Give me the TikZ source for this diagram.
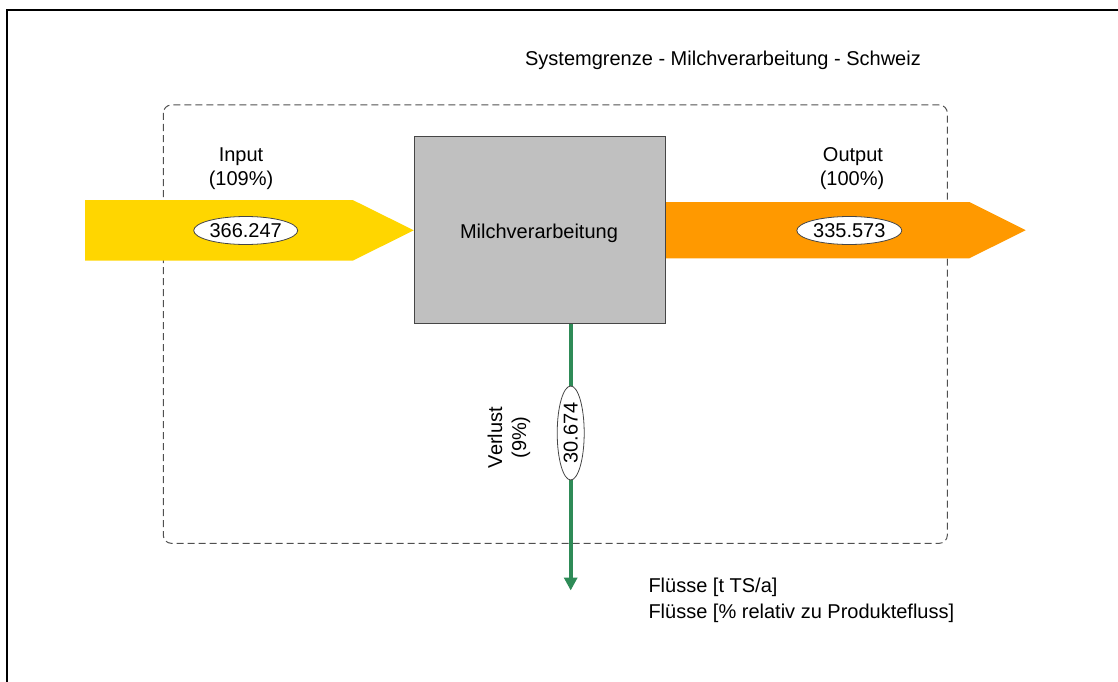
\documentclass[tikz,border=0pt]{standalone}
\usepackage{fontspec}
\setmainfont{Liberation Sans}
\usetikzlibrary{shapes.geometric,arrows.meta}
\definecolor{inyellow}{RGB}{255,214,0}
\definecolor{outorange}{RGB}{255,153,0}
\definecolor{lossgreen}{RGB}{46,139,87}
\definecolor{boxgray}{RGB}{192,192,192}
\definecolor{edgegray}{RGB}{70,70,70}
\definecolor{dashgray}{RGB}{80,80,80}
\tikzset{
  every node/.style={font=\fontsize{20}{24}\selectfont, inner sep=0pt},
  valbox/.style={ellipse, draw=edgegray, line width=0.8pt, fill=white, inner sep=0pt},
  labeltext/.style={anchor=base},
  boundary/.style={draw=dashgray, line width=1pt, dash pattern=on 7pt off 4pt, rounded corners=8pt},
}
\begin{document}
\begin{tikzpicture}[x=1pt,y=-1pt]
\useasboundingbox (0,0) rectangle (1118,682);
% frame
\draw[line width=2pt] (6.7,684) -- (6.7,10) -- (1120,10);
% system boundary
\draw[boundary] (163.3,105) rectangle (947.3,543.3);
\node[labeltext] (title) at (723,65.7) {Systemgrenze - Milchverarbeitung - Schweiz};
% input arrow
\fill[inyellow] (85,200) -- (352.7,200) -- (413.8,230.3) -- (352.7,260.7) -- (85,260.7) -- cycle;
% output arrow
\fill[outorange] (665,202) -- (969.3,202) -- (1025.7,230.2) -- (969.3,258.3) -- (665,258.3) -- cycle;
% process box
\node[draw=edgegray, line width=1pt, fill=boxgray, minimum width=251pt, minimum height=187.6pt, anchor=north west] (proc) at (414,135.7) {};
\node[labeltext] (proctext) at (539,238.3) {Milchverarbeitung};
% labels
\node[labeltext] (inlab) at (241,161.7) {Input};
\node[labeltext] (inpct) at (241,185) {(109\%)};
\node[labeltext] (outlab) at (853,161.7) {Output};
\node[labeltext] (outpct) at (852,185) {(100\%)};
% values
\node[valbox, minimum width=104pt, minimum height=28pt] (inval) at (245.7,230.5) {366.247};
\node[valbox, minimum width=105pt, minimum height=28pt] (outval) at (849.3,230.5) {335.573};
% loss
\coordinate (lossend) at (570.7,590.5);
\draw[lossgreen, line width=4pt, -{Triangle[length=13pt,width=13pt]}] (proc.south -| lossend) -- (lossend);
\node[valbox, rotate=90, minimum width=94pt, minimum height=27pt] (lossval) at (570.7,433) {30.674};
\node[rotate=90, align=center] (losslab) at (509,437.5) {Verlust\\(9\%)};
% legend
\node[anchor=base west] (leg1) at (648.3,592.3) {Flüsse [t TS/a]};
\node[anchor=base west] (leg2) at (648.3,618) {Flüsse [\% relativ zu Produktefluss]};
\end{tikzpicture}
\end{document}
